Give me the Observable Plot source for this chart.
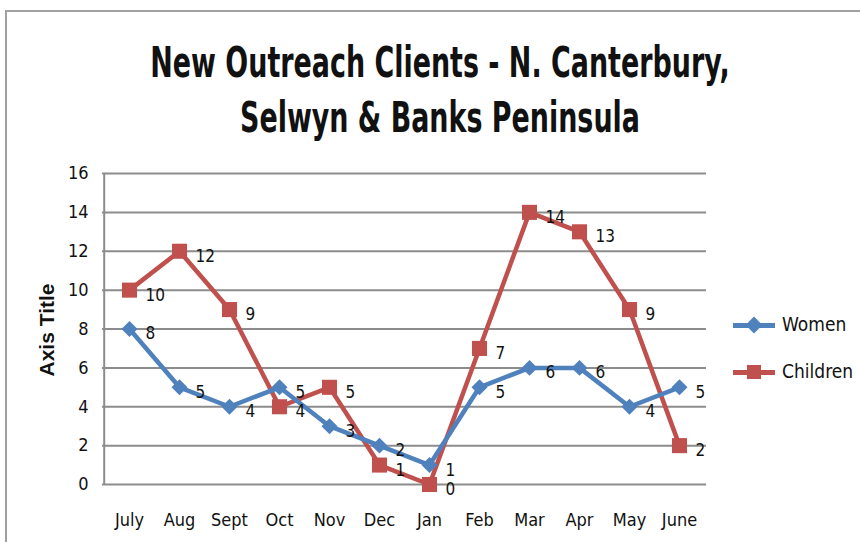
<!DOCTYPE html>
<html>
<head>
<meta charset="utf-8">
<script src="https://cdn.jsdelivr.net/npm/d3@7"></script>
<script src="https://cdn.jsdelivr.net/npm/@observablehq/plot@0.6"></script>
<style>
  html, body { margin: 0; padding: 0; background: #fff; }
  #page { position: relative; width: 860px; height: 542px; overflow: hidden; font-family: "DejaVu Sans Condensed", sans-serif; }
  #frame { position: absolute; left: 5px; top: 10px; width: 900px; height: 600px; border-top: 2px solid #a0a0a0; border-left: 2px solid #a0a0a0; }
  #title { position: absolute; left: 0; top: 34px; width: 880px; text-align: center; font-weight: bold; font-size: 34px; line-height: 44px; color: #111; transform: scale(0.88, 1.25); transform-origin: top center; }
  #chart { position: absolute; left: 0; top: 150px; }
  #ytitle { position: absolute; left: 47px; top: 330px; transform: translate(-50%, -50%) rotate(-90deg); font-family: "Liberation Sans", Arial, sans-serif; font-weight: bold; font-size: 21px; color: #111; white-space: nowrap; }
  .leg { position: absolute; left: 733px; height: 20px; font-size: 19px; color: #111; }
  .leg .ln { position: absolute; left: 0; top: 8px; width: 42px; height: 5px; }
  .leg .mk { position: absolute; left: 14px; top: 3px; width: 14px; height: 14px; }
  .leg .tx { position: absolute; left: 49px; top: -2px; white-space: nowrap; }
</style>
</head>
<body>
<div id="page">
  <div id="frame"></div>
  <div id="title">New Outreach Clients - N. Canterbury,<br>Selwyn &amp; Banks Peninsula</div>
  <div id="chart"></div>
  <div id="ytitle">Axis Title</div>
  <div class="leg" style="top:315px"><div class="ln" style="background:#4F81BD"></div><div class="mk" style="background:#4F81BD;transform:rotate(45deg) scale(0.85)"></div><div class="tx">Women</div></div>
  <div class="leg" style="top:362px"><div class="ln" style="background:#C0504D"></div><div class="mk" style="background:#C0504D"></div><div class="tx">Children</div></div>
</div>
<script>
const months = ["July","Aug","Sept","Oct","Nov","Dec","Jan","Feb","Mar","Apr","May","June"];
const women = [8,5,4,5,3,2,1,5,6,6,4,5];
const children = [10,12,9,4,5,1,0,7,14,13,9,2];
const yTicks = [0,2,4,6,8,10,12,14,16];
const seriesNames = ["Women","Children"];
const seriesColors = ["#4F81BD","#C0504D"];

const womenData = months.map((m,i) => ({month: m, value: women[i]}));
const childData = months.map((m,i) => ({month: m, value: children[i]}));

const font = '"DejaVu Sans Condensed", sans-serif';

const plot = Plot.plot({
  width: 860,
  height: 392,
  marginLeft: 102,
  marginRight: 154,
  marginTop: 23,
  marginBottom: 58,
  style: {fontFamily: font, fontSize: "18px", color: "#111", background: "transparent", overflow: "visible"},
  x: {type: "point", domain: months, padding: 0.5, label: null},
  y: {domain: [0,16], label: null},
  marks: [
    Plot.gridY(yTicks, {stroke: "#8c8c8c", strokeOpacity: 1, strokeWidth: 2}),
    Plot.ruleX([months[0]], {y1: 0, y2: 16, stroke: "#8c8c8c", strokeWidth: 2, dx: -25.3}),
    Plot.line(childData, {x: "month", y: "value", stroke: seriesColors[1], strokeWidth: 4.5}),
    Plot.line(womenData, {x: "month", y: "value", stroke: seriesColors[0], strokeWidth: 4.5}),
    Plot.dot(childData, {x: "month", y: "value", symbol: "square", r: 8.5, fill: seriesColors[1], stroke: "none"}),
    Plot.dot(womenData, {x: "month", y: "value", symbol: "diamond2", r: 7.2, fill: seriesColors[0], stroke: "none"}),
    Plot.text(childData, {x: "month", y: "value", text: d => String(d.value), textAnchor: "start", dx: 16, dy: 5, fill: "#111", fontSize: 17}),
    Plot.text(womenData, {x: "month", y: "value", text: d => String(d.value), textAnchor: "start", dx: 16, dy: 5, fill: "#111", fontSize: 17}),
    Plot.axisX({tickSize: 0, tickPadding: 29, label: null, fontSize: 18}),
    Plot.axisY({ticks: yTicks, tickSize: 0, tickPadding: 14, label: null, tickFormat: d3.format("d"), fontSize: 18})
  ]
});
document.getElementById("chart").appendChild(plot);
</script>
</body>
</html>
